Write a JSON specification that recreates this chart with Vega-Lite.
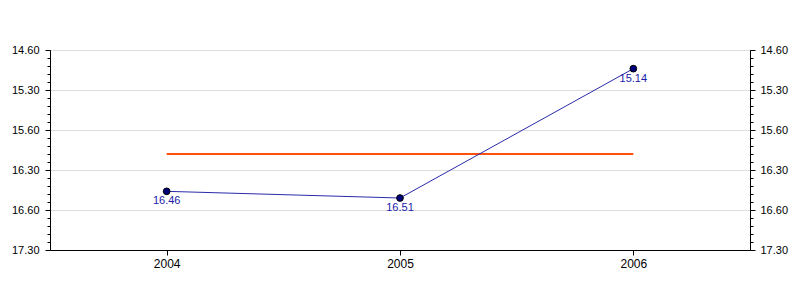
{
  "$schema": "https://vega.github.io/schema/vega-lite/v6.json",
  "width": 700,
  "height": 200,
  "autosize": {"type": "none"},
  "padding": {"left": 50, "top": 50, "right": 50, "bottom": 50},
  "background": "white",
  "config": {
    "view": {"stroke": "black", "strokeWidth": 1},
    "axis": {"labelFont": "Liberation Sans", "labelFontSize": 11, "labelColor": "black", "domainColor": "black", "tickColor": "black"}
  },
  "data": {
    "values": [
      {"year": "2004", "minutes": 16.7667, "label": "16.46", "target": 16.3},
      {"year": "2005", "minutes": 16.85, "label": "16.51", "target": 16.3},
      {"year": "2006", "minutes": 15.2333, "label": "15.14", "target": 16.3}
    ]
  },
  "encoding": {
    "x": {"field": "year", "type": "ordinal", "scale": {"type": "point", "padding": 0.5},
      "axis": {"title": null, "labelAngle": 0, "tickSize": 5, "labelPadding": 3, "labelFontSize": 12, "grid": false}}
  },
  "layer": [
    {
      "mark": {"type": "line", "color": "#ff5010", "strokeWidth": 2},
      "encoding": {
        "y": {"field": "target", "type": "quantitative", "scale": {"domain": [15, 17.5], "reverse": true, "nice": false, "zero": false},
          "axis": {"title": null, "orient": "left", "values": [15, 15.5, 16, 16.5, 17, 17.5], "tickSize": 5, "labelPadding": 6, "grid": true, "gridColor": "#dddddd",
            "labelExpr": "format(floor(datum.value-0.001),'d') + '.' + format(round((datum.value - floor(datum.value-0.001))*60),'02d')"}}
      }
    },
    {
      "mark": {"type": "line", "color": "#2a2aaa", "strokeWidth": 1},
      "encoding": {
        "y": {"field": "minutes", "type": "quantitative",
          "axis": {"title": null, "orient": "right", "values": [15, 15.5, 16, 16.5, 17, 17.5], "tickSize": 5, "labelPadding": 5, "grid": false,
            "labelExpr": "format(floor(datum.value-0.001),'d') + '.' + format(round((datum.value - floor(datum.value-0.001))*60),'02d')"}}
      }
    },
    {
      "mark": {"type": "point", "filled": true, "color": "#00007a", "stroke": "black", "strokeWidth": 1, "size": 45, "opacity": 1},
      "encoding": {
        "y": {"field": "minutes", "type": "quantitative",
          "axis": {"title": null, "orient": "left", "values": [15.1,15.2,15.3,15.4,15.6,15.7,15.8,15.9,16.1,16.2,16.3,16.4,16.6,16.7,16.8,16.9,17.1,17.2,17.3,17.4], "tickSize": 3, "labels": false, "domain": false, "grid": false}}
      }
    },
    {
      "mark": {"type": "text", "color": "#1a1aaa", "font": "Liberation Sans", "fontSize": 11, "dy": 10, "baseline": "middle"},
      "encoding": {
        "y": {"field": "minutes", "type": "quantitative",
          "axis": {"title": null, "orient": "right", "values": [15.1,15.2,15.3,15.4,15.6,15.7,15.8,15.9,16.1,16.2,16.3,16.4,16.6,16.7,16.8,16.9,17.1,17.2,17.3,17.4], "tickSize": 3, "labels": false, "domain": false, "grid": false}},
        "text": {"field": "label", "type": "nominal"}
      }
    }
  ],
  "resolve": {"axis": {"y": "independent"}}
}
